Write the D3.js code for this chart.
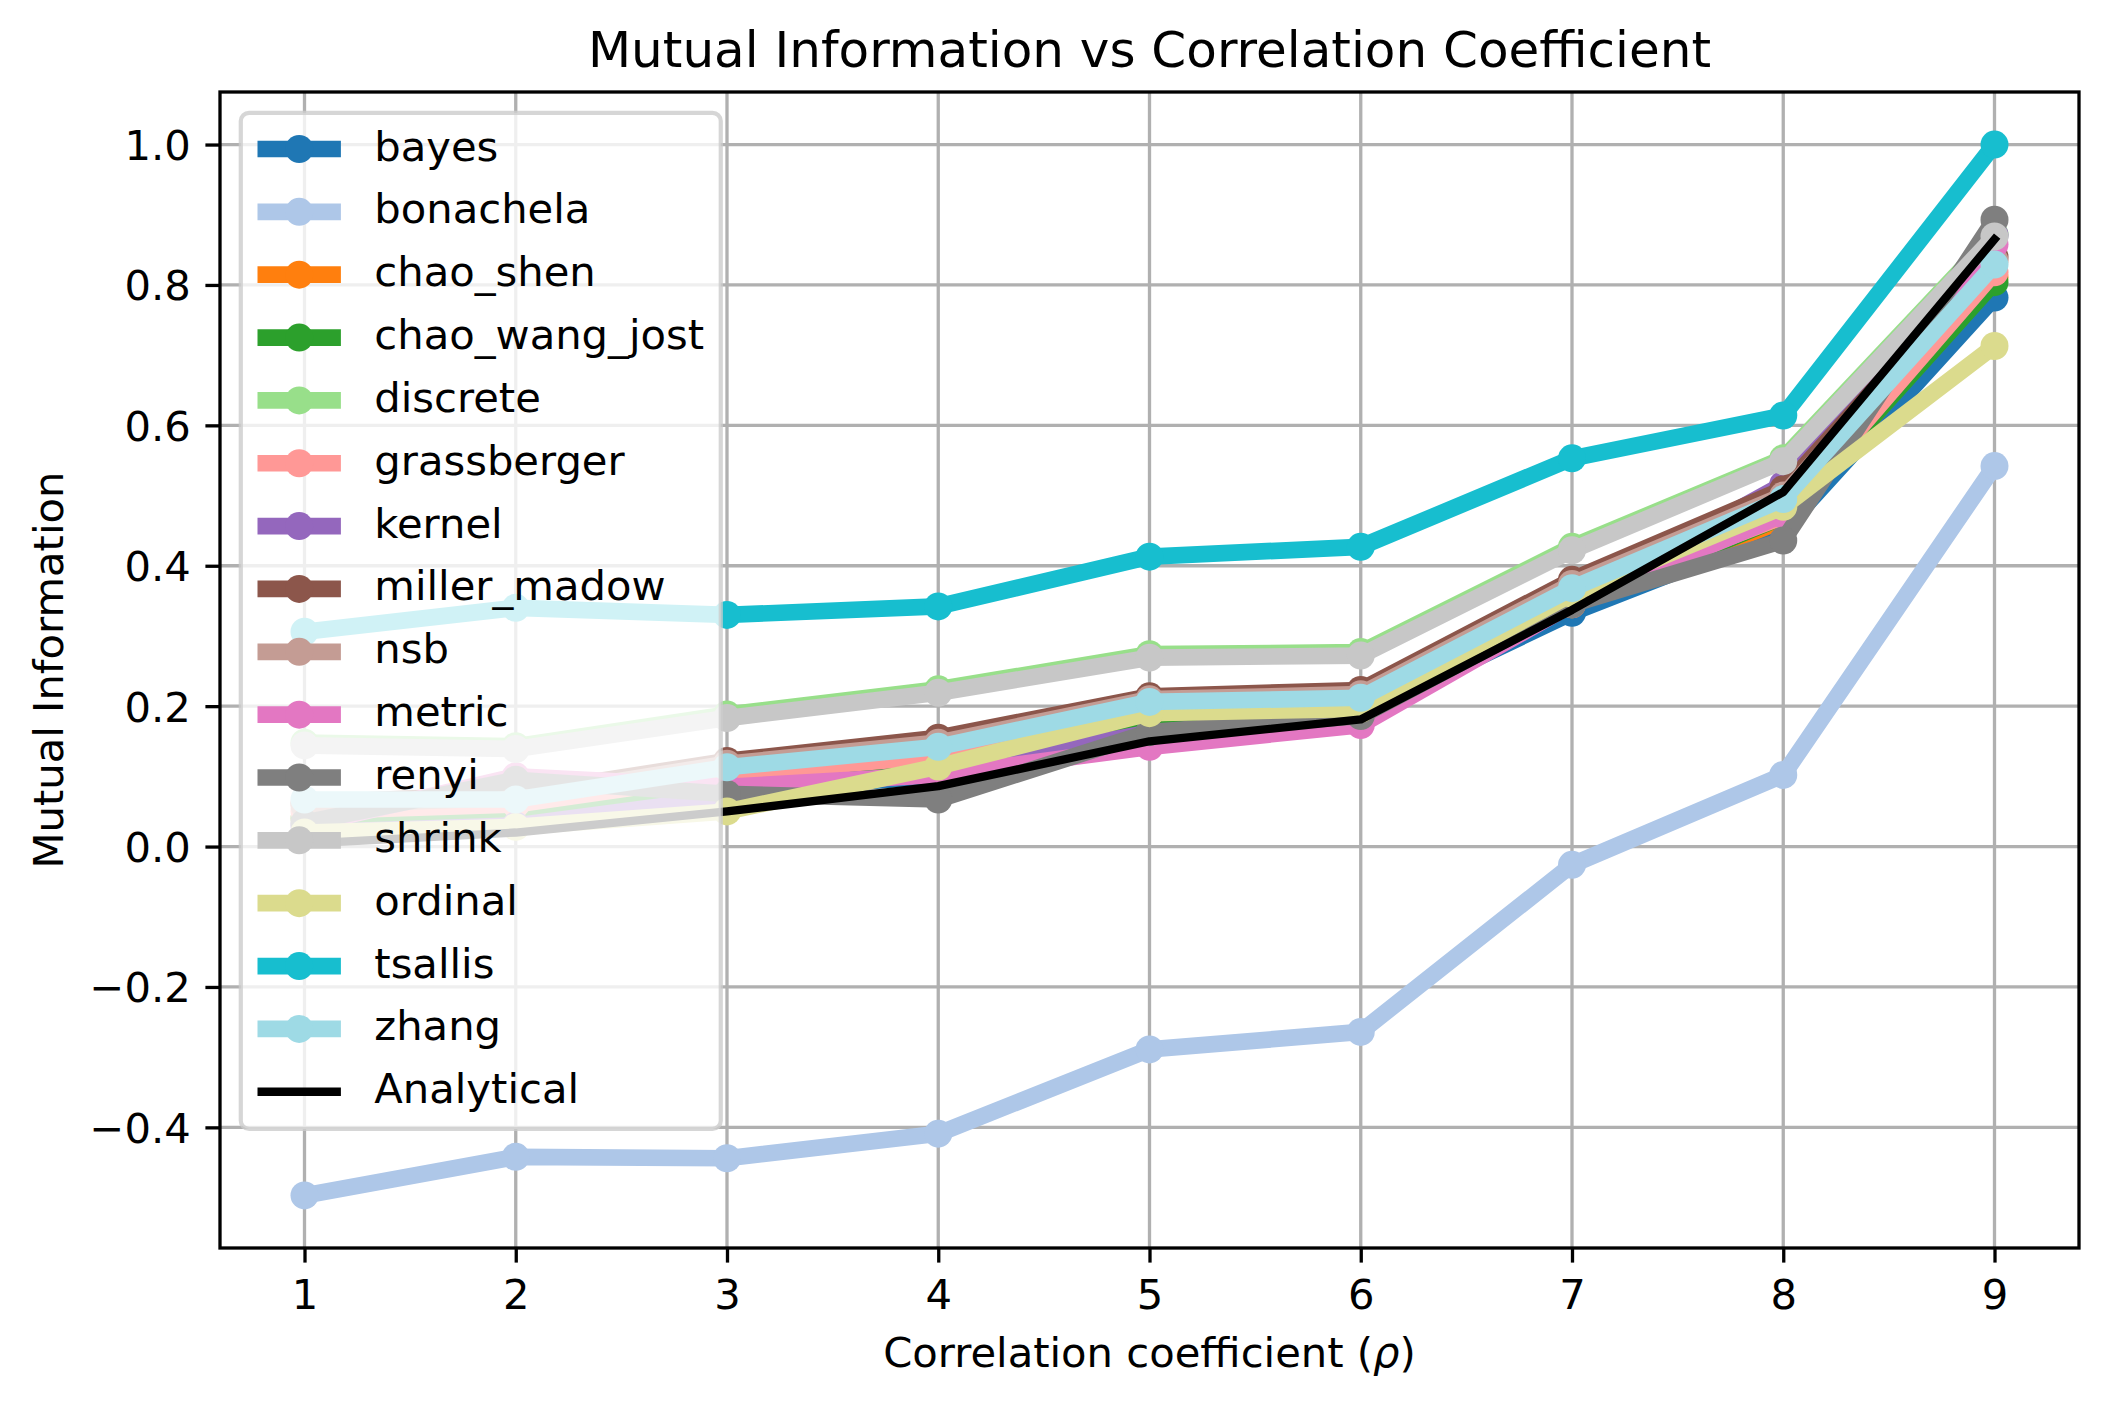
<!DOCTYPE html>
<html>
<head>
<meta charset="utf-8">
<script src="https://cdn.jsdelivr.net/npm/d3@7"></script>
<style>
  html, body { margin: 0; padding: 0; background: #fff; }
  svg text { font-family: "DejaVu Sans", sans-serif; fill: #000; }
</style>
</head>
<body>
<div id="chart"></div>
<script>
// x positions (correlation coefficient index)
const rhoSteps = [1, 2, 3, 4, 5, 6, 7, 8, 9];
const yTickValues = [-0.4, -0.2, 0.0, 0.2, 0.4, 0.6, 0.8, 1.0];

// estimated mutual information per estimator
const bayes        = [0.030, 0.050, 0.080, 0.100, 0.170, 0.190, 0.333, 0.451, 0.782];
const bonachela    = [-0.497, -0.442, -0.444, -0.409, -0.289, -0.264, -0.026, 0.102, 0.542];
const chaoShen     = [0.040, 0.060, 0.095, 0.118, 0.177, 0.190, 0.345, 0.465, 0.811];
const chaoWangJost = [0.040, 0.050, 0.088, 0.117, 0.175, 0.190, 0.345, 0.470, 0.804];
const discrete     = [0.148, 0.143, 0.188, 0.224, 0.274, 0.277, 0.427, 0.553, 0.872];
const grassberger  = [0.050, 0.060, 0.103, 0.129, 0.190, 0.200, 0.355, 0.470, 0.818];
const kernel       = [0.020, 0.030, 0.070, 0.107, 0.162, 0.185, 0.350, 0.516, 0.871];
const millerMadow  = [0.062, 0.075, 0.122, 0.155, 0.214, 0.223, 0.380, 0.509, 0.840];
const nsb          = [0.058, 0.070, 0.118, 0.148, 0.210, 0.217, 0.374, 0.500, 0.835];
const metric       = [0.030, 0.100, 0.085, 0.102, 0.142, 0.173, 0.345, 0.473, 0.858];
const renyi        = [0.034, 0.095, 0.075, 0.067, 0.163, 0.186, 0.345, 0.436, 0.893];
const shrink       = [0.144, 0.139, 0.183, 0.219, 0.269, 0.272, 0.422, 0.549, 0.869];
const ordinal      = [0.020, 0.028, 0.050, 0.114, 0.190, 0.196, 0.360, 0.484, 0.713];
const tsallis      = [0.306, 0.340, 0.330, 0.342, 0.413, 0.427, 0.553, 0.614, 1.000];
const zhang        = [0.067, 0.067, 0.113, 0.142, 0.206, 0.212, 0.368, 0.495, 0.829];
const analytical   = [0.004, 0.020, 0.050, 0.086, 0.150, 0.181, 0.337, 0.505, 0.865];

const estimatorNames = ["bayes", "bonachela", "chao_shen", "chao_wang_jost", "discrete",
  "grassberger", "kernel", "miller_madow", "nsb", "metric", "renyi", "shrink",
  "ordinal", "tsallis", "zhang"];
const estimatorValues = [bayes, bonachela, chaoShen, chaoWangJost, discrete,
  grassberger, kernel, millerMadow, nsb, metric, renyi, shrink,
  ordinal, tsallis, zhang];
const estimatorColors = ["#1f77b4", "#aec7e8", "#ff7f0e", "#2ca02c", "#98df8a",
  "#ff9896", "#9467bd", "#8c564b", "#c49c94", "#e377c2", "#7f7f7f", "#c7c7c7",
  "#dbdb8d", "#17becf", "#9edae5"];

const series = estimatorNames.map((name, i) => ({
  name, values: estimatorValues[i], color: estimatorColors[i], lw: 16.7, marker: true,
}));
series.push({ name: "Analytical", values: analytical, color: "#000000", lw: 8.3, marker: false });

const W = 2109, H = 1407;
const margin = { top: 92, right: 30, bottom: 159, left: 220 };
const fs = 41.7; // 10pt at 300 dpi
const markerR = 14;

const svg = d3.select("#chart").append("svg")
  .attr("width", W).attr("height", H);

const x = d3.scaleLinear()
  .domain([1 - 0.4, 9 + 0.4])
  .range([margin.left, W - margin.right]);

const allVals = series.flatMap(s => s.values);
const yMin = d3.min(allVals), yMax = d3.max(allVals);
const pad = (yMax - yMin) * 0.05;
const y = d3.scaleLinear()
  .domain([yMin - pad, yMax + pad])
  .range([H - margin.bottom, margin.top]);

// grid
const grid = svg.append("g");
grid.selectAll(".vg").data(rhoSteps).join("line")
  .attr("x1", d => x(d)).attr("x2", d => x(d))
  .attr("y1", margin.top).attr("y2", H - margin.bottom)
  .attr("stroke", "#b0b0b0").attr("stroke-width", 3.3);
grid.selectAll(".hg").data(yTickValues).join("line")
  .attr("x1", margin.left).attr("x2", W - margin.right)
  .attr("y1", d => y(d)).attr("y2", d => y(d))
  .attr("stroke", "#b0b0b0").attr("stroke-width", 3.3);

// lines
const lineGen = d3.line()
  .x((d, i) => x(rhoSteps[i]))
  .y(d => y(d));

const plot = svg.append("g");
series.forEach(s => {
  const g = plot.append("g");
  g.append("path")
    .attr("d", lineGen(s.values))
    .attr("fill", "none")
    .attr("stroke", s.color)
    .attr("stroke-width", s.lw)
    .attr("stroke-linejoin", "round")
    .attr("stroke-linecap", "square");
  if (s.marker) {
    g.selectAll("circle").data(s.values).join("circle")
      .attr("cx", (d, i) => x(rhoSteps[i]))
      .attr("cy", d => y(d))
      .attr("r", markerR)
      .attr("fill", s.color);
  }
});

// axes
const xAxis = d3.axisBottom(x).tickValues(rhoSteps).tickFormat(d3.format("d"))
  .tickSize(14.6).tickPadding(14.6);
const yAxis = d3.axisLeft(y).tickValues(yTickValues).tickFormat(d3.format(".1f"))
  .tickSize(14.6).tickPadding(14.6);

const gx = svg.append("g").attr("transform", `translate(0,${H - margin.bottom})`).call(xAxis);
const gy = svg.append("g").attr("transform", `translate(${margin.left},0)`).call(yAxis);
[gx, gy].forEach(g => {
  g.select(".domain").remove();
  g.selectAll(".tick line").attr("stroke", "#000").attr("stroke-width", 3.3);
  g.selectAll(".tick text").attr("font-size", fs).attr("font-family", "DejaVu Sans").attr("fill", "#000");
});
gx.selectAll(".tick text").attr("dy", null).attr("y", 14.6 + 14.6 + 31.5);
gy.selectAll(".tick text").attr("dy", "0.36em");

// spines
svg.append("rect")
  .attr("x", margin.left).attr("y", margin.top)
  .attr("width", W - margin.left - margin.right)
  .attr("height", H - margin.top - margin.bottom)
  .attr("fill", "none").attr("stroke", "#000").attr("stroke-width", 3.3);

// titles
svg.append("text")
  .attr("x", (margin.left + W - margin.right) / 2).attr("y", 67)
  .attr("text-anchor", "middle").attr("font-size", 50)
  .text("Mutual Information vs Correlation Coefficient");

const xl = svg.append("text")
  .attr("x", (margin.left + W - margin.right) / 2).attr("y", 1367)
  .attr("text-anchor", "middle").attr("font-size", fs);
xl.append("tspan").text("Correlation coefficient (");
xl.append("tspan").attr("font-style", "italic").text("ρ");
xl.append("tspan").text(")");

svg.append("text")
  .attr("transform", `translate(63,${(margin.top + H - margin.bottom) / 2}) rotate(-90)`)
  .attr("text-anchor", "middle").attr("font-size", fs)
  .text("Mutual Information");

// legend
const legX = 240.8, legY = 112.8, rowH = 62.85, firstRow = 149;
const legend = svg.append("g");
const frame = legend.append("rect")
  .attr("x", legX).attr("y", legY).attr("rx", 8.3).attr("ry", 8.3)
  .attr("fill", "#fff").attr("fill-opacity", 0.8)
  .attr("stroke", "#cccccc").attr("stroke-opacity", 0.8).attr("stroke-width", 4.2);

const handleX0 = legX + 16.7, handleLen = 83.4, textX = handleX0 + handleLen + 33.4;
let maxLen = 0;
series.forEach((s, i) => {
  const cy = firstRow + i * rowH;
  legend.append("line")
    .attr("x1", handleX0).attr("x2", handleX0 + handleLen)
    .attr("y1", cy).attr("y2", cy)
    .attr("stroke", s.color).attr("stroke-width", s.lw);
  if (s.marker) {
    legend.append("circle")
      .attr("cx", handleX0 + handleLen / 2).attr("cy", cy).attr("r", markerR)
      .attr("fill", s.color);
  }
  const t = legend.append("text")
    .attr("x", textX).attr("y", cy + 11.5)
    .attr("font-size", fs).text(s.name);
  maxLen = Math.max(maxLen, t.node().getComputedTextLength());
});
const lastRowBottom = firstRow + (series.length - 1) * rowH + 20.5;
frame.attr("width", textX + maxLen + 16.7 - legX)
  .attr("height", lastRowBottom + 16.7 - legY);
</script>
</body>
</html>
